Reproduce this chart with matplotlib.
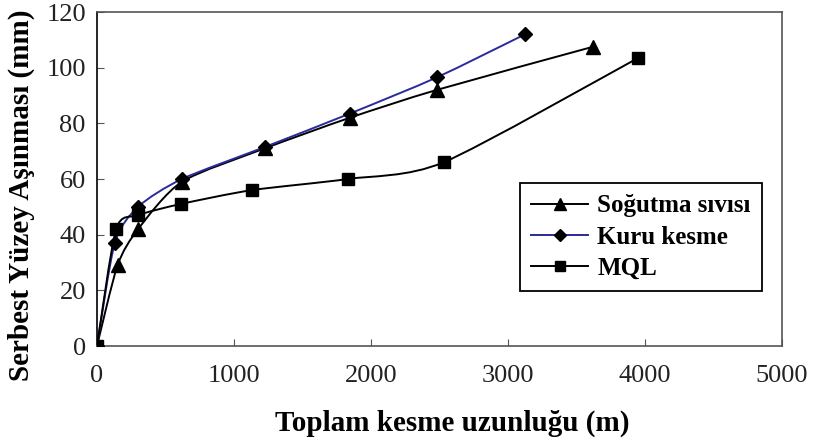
import matplotlib

matplotlib.use("Agg")
import matplotlib.pyplot as plt
import numpy as np
from matplotlib.path import Path
from matplotlib.patches import PathPatch
from matplotlib.lines import Line2D

# data
sogutma_x = [0, 150, 300, 620, 1225, 1845, 2480, 3620]
sogutma_y = [0, 29, 42, 59, 71, 82, 92, 107.5]

kuru_x = [0, 130, 300, 620, 1225, 1845, 2480, 3125]
kuru_y = [0, 37, 50, 60, 71.5, 83.5, 96.5, 112]

mql_x = [0, 140, 300, 610, 1130, 1830, 2530, 3950]
mql_y = [0, 42, 47, 51, 56, 60, 66, 103.5]

x_ticks = [0, 1000, 2000, 3000, 4000, 5000]
y_ticks = [0, 20, 40, 60, 80, 100, 120]

plt.rcParams["font.family"] = ["Liberation Serif", "DejaVu Serif"]


def smooth_path(xs, ys):
    # Excel style smoothed line: Catmull-Rom segments as cubic Beziers
    pts = np.column_stack([xs, ys]).astype(float)
    verts = [pts[0]]
    codes = [Path.MOVETO]
    n = len(pts)
    for i in range(n - 1):
        p0 = pts[i - 1] if i > 0 else pts[i]
        p1 = pts[i]
        p2 = pts[i + 1]
        p3 = pts[i + 2] if i + 2 < n else pts[i + 1]
        c1 = p1 + (p2 - p0) / 8.0
        c2 = p2 - (p3 - p1) / 8.0
        verts += [c1, c2, p2]
        codes += [Path.CURVE4] * 3
    return Path(verts, codes)


fig = plt.figure(figsize=(8.15, 4.38), dpi=100)
ax = fig.add_axes([0.119, 0.21, 0.8405, 0.7626])

series = [
    ("Soğutma sıvısı", sogutma_x, sogutma_y, "^", "black", 10),
    ("Kuru kesme", kuru_x, kuru_y, "D", "#2a2a9c", 7.5),
    ("MQL", mql_x, mql_y, "s", "black", 8),
]

handles = []
for label, xs, ys, marker, color, ms in series:
    ax.add_patch(PathPatch(smooth_path(xs, ys), facecolor="none",
                           edgecolor=color, lw=1.4, zorder=2))
    ax.plot(xs, ys, ls="none", marker=marker, color="black", ms=ms, zorder=3)
    handles.append(Line2D([], [], color=color, lw=1.4, marker=marker,
                          mfc="black", mec="black", ms=ms * 0.85, label=label))

ax.set_xlim(0, 5000)
ax.set_ylim(0, 120)
ax.set_xticks(x_ticks)
ax.set_yticks(y_ticks)
ax.tick_params(direction="in", length=5, labelsize=19, color="#555555",
               labelcolor="#222222")
ax.tick_params(axis="x", pad=14)
ax.tick_params(axis="y", pad=8)
for s in ax.spines.values():
    s.set_color("#555555")
    s.set_linewidth(1.2)
ax.spines["left"].set_color("black")

ax.set_xlabel("Toplam kesme uzunluğu (m)", fontsize=21, fontweight="bold")
ax.xaxis.set_label_coords(0.518, -0.19)
ax.set_ylabel("Serbest Yüzey Aşınması (mm)", fontsize=21, fontweight="bold")
ax.yaxis.set_label_coords(-0.09, 0.452)

leg = ax.legend(handles=handles, loc="upper left", bbox_to_anchor=(0.617, 0.488),
                borderaxespad=0, fancybox=False, edgecolor="black", framealpha=1,
                prop={"size": 18, "weight": "bold"}, handlelength=2.3,
                borderpad=0.45, labelspacing=0.33, handletextpad=0.35)
leg.get_frame().set_linewidth(1.3)

fig.savefig("out.png")
